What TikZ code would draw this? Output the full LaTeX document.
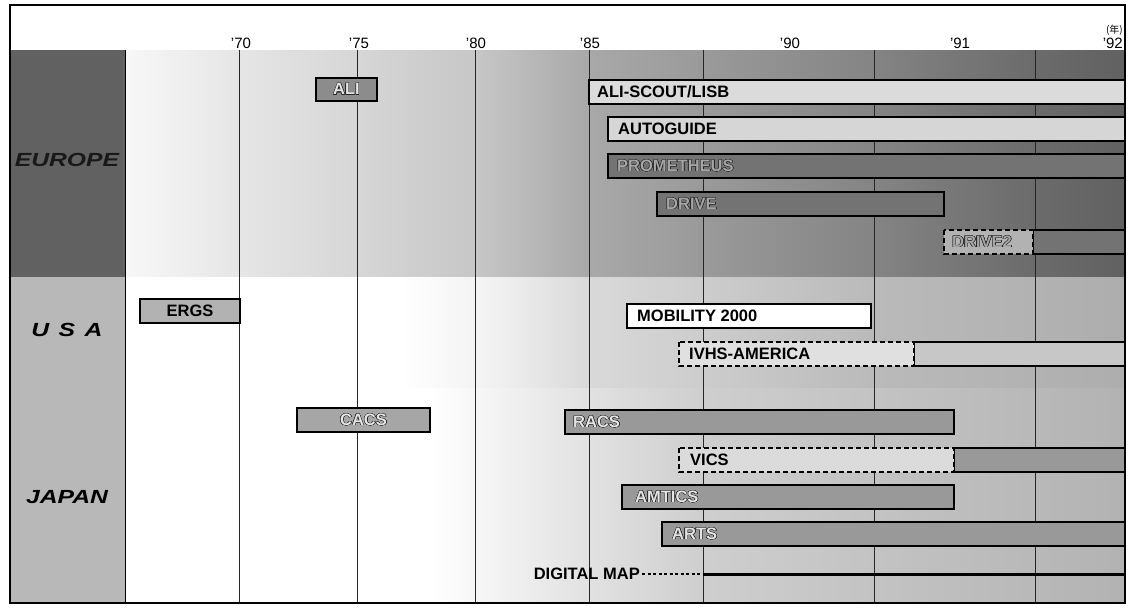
\documentclass[tikz,border=0pt]{standalone}
\usepackage{fontspec}
\setmainfont{Liberation Sans}
\newfontfamily\regionfont[FakeStretch=1.3]{Liberation Sans}
\newfontfamily\cjk{Noto Sans CJK JP}
\usepackage{contour}
\contourlength{0.45pt}
\usetikzlibrary{positioning}

% horizontal shadings for the three bands (box mapped to 25bp..75bp)
\pgfdeclarehorizontalshading{europeband}{100bp}{color(0bp)=(white); color(25bp)=(black!3);
  color(30.75bp)=(black!10); color(42.5bp)=(black!22); color(48.2bp)=(black!34);
  color(62.25bp)=(black!48); color(70.5bp)=(black!58); color(75bp)=(black!62); color(100bp)=(black!62)}
\pgfdeclarehorizontalshading{usaband}{100bp}{color(0bp)=(white); color(25bp)=(white);
  color(38.75bp)=(white); color(43.75bp)=(black!6); color(48.2bp)=(black!15);
  color(62.25bp)=(black!27); color(75bp)=(black!32); color(100bp)=(black!32)}
\pgfdeclarehorizontalshading{japanband}{100bp}{color(0bp)=(white); color(25bp)=(white);
  color(40.25bp)=(white); color(47bp)=(black!10); color(53.75bp)=(black!19);
  color(75bp)=(black!30); color(100bp)=(black!30)}

\newcommand{\outl}[1]{\contour{black!85}{#1}}

\begin{document}
\begin{tikzpicture}[x=1pt,y=-1pt,
  font=\fontsize{16.5}{18}\selectfont\bfseries,
  gridline/.style={line width=0.7pt,draw=black!85},
  barbox/.style={draw=black,line width=2.6pt},
  planbox/.style={draw=black,line width=2.8pt,dash pattern=on 5pt off 3pt},
  darktext/.style={anchor=west,inner sep=0pt,text=black},
  lighttext/.style={anchor=west,inner sep=0pt,text=black!10},
  greytext/.style={anchor=west,inner sep=0pt,text=black!35},
  yearlabel/.style={font=\fontsize{15}{17}\selectfont,inner sep=0pt},
  region/.style={font=\regionfont\fontsize{19}{21}\selectfont\bfseries\itshape,inner sep=0pt}
]
\useasboundingbox (0,0) rectangle (1133,611);
\fill[white] (0,0) rectangle (1133,611);

% bands
\shade[shading=europeband] (125,50) rectangle (1125,277);
\shade[shading=usaband] (125,277) rectangle (1125,388);
\shade[shading=japanband] (125,388) rectangle (1125,603);
\fill[black!62] (10,50) rectangle (125,277);
\fill[black!28] (10,277) rectangle (125,603);
\draw[line width=0.7pt] (125,50) -- (125,603);

\node[region,text=black!90] (europe) at (67,160) {EUROPE};
\node[region] (usa) at (67,330) {U\,\,\,S\,\,\,A};
\node[region] (japan) at (67,497) {JAPAN};

% grid
\foreach \xx in {239,357,475,589,703,874,1035}
  \draw[gridline] (\xx,50) -- (\xx,603);

% years
\foreach \yr/\xx in {70/241,75/359,80/476,85/590,90/790,91/960}
  \node[yearlabel] (y\yr) at (\xx,43) {'\yr};
\node[yearlabel,anchor=east] (y92) at (1123,43) {'92};
\node[font=\cjk\fontsize{10}{11}\selectfont,inner sep=0pt,anchor=east] (nen) at (1123,30) {(年)};

% Europe
\draw[barbox,fill=black!45] (316,78) rectangle (377,101);
\node[lighttext,anchor=center] (ali) at (346.5,89.5) {\outl{ALI}};
\draw[barbox,fill=black!14] (589,80) rectangle (1125,104);
\node[darktext] (aliscout) at (597,92) {ALI-SCOUT/LISB};
\draw[barbox,fill=black!16] (608,117) rectangle (1125,141);
\node[darktext] (autoguide) at (618,129) {AUTOGUIDE};
\draw[barbox,fill=black!55] (608,154) rectangle (1125,178);
\node[greytext] (prometheus) at (617,166) {\outl{PROMETHEUS}};
\draw[barbox,fill=black!55] (657,192) rectangle (944,216);
\node[greytext] (drive) at (666,204) {\outl{DRIVE}};
\draw[barbox,fill=black!55] (1033,230) rectangle (1125,254);
\draw[planbox,fill=black!30] (944,230) rectangle (1033,254);
\node[greytext] (drivetwo) at (952,242) {\outl{DRIVE2}};

% USA
\draw[barbox,fill=black!30] (140,299) rectangle (240,323);
\node[darktext,anchor=center] (ergs) at (190,311) {ERGS};
\draw[barbox,fill=white] (627,304) rectangle (871,328);
\node[darktext] (mobility) at (637,316) {MOBILITY 2000};
\draw[barbox,fill=black!22] (914,342) rectangle (1125,366);
\draw[planbox,fill=black!12] (679,342) rectangle (914,366);
\node[darktext] (ivhs) at (689,354) {IVHS-AMERICA};

% Japan
\draw[barbox,fill=black!35] (297,408) rectangle (430,432);
\node[lighttext,anchor=center] (cacs) at (363.5,420) {\outl{CACS}};
\draw[barbox,fill=black!40] (565,410) rectangle (954,434);
\node[lighttext] (racs) at (573,422) {\outl{RACS}};
\draw[barbox,fill=black!40] (954,448) rectangle (1125,472);
\draw[planbox,fill=black!14] (679,448) rectangle (954,472);
\node[darktext] (vics) at (690,460) {VICS};
\draw[barbox,fill=black!40] (622,485) rectangle (954,509);
\node[lighttext] (amtics) at (635,497) {\outl{AMTICS}};
\draw[barbox,fill=black!40] (662,522) rectangle (1125,546);
\node[lighttext] (arts) at (672,534) {\outl{ARTS}};

\node[darktext,anchor=east] (dmap) at (640,574) {DIGITAL MAP};
\coordinate (dmstart) at (703,574);
\coordinate (dmend) at (1125,574);
\draw[line width=2.4pt,dash pattern=on 3pt off 2.5pt] ([xshift=2pt]dmap.east) -- (dmstart);
\draw[line width=3pt] (dmstart) -- (dmend);

% frame
\draw[line width=1.2pt] (10,5) rectangle (1125,603);
\end{tikzpicture}
\end{document}
